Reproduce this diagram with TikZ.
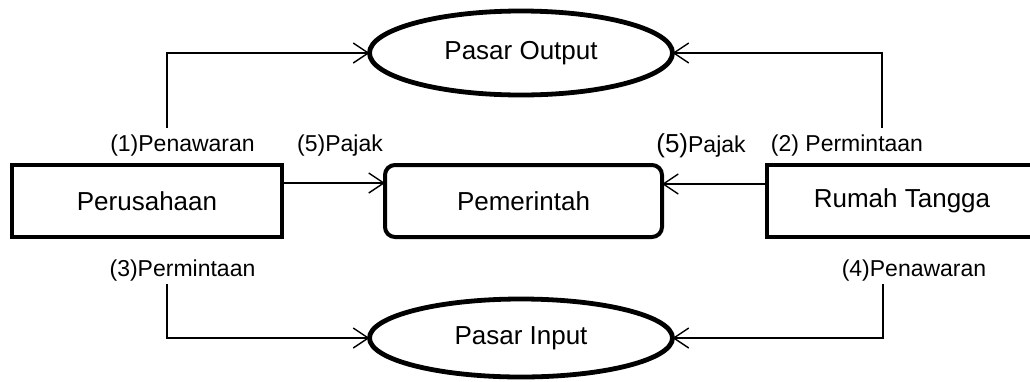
\documentclass[tikz,border=0pt]{standalone}
\usepackage{fontspec}
\setmainfont{Liberation Sans}
\usetikzlibrary{arrows.meta,shapes.geometric}
\begin{document}
\begin{tikzpicture}[x=1pt,y=-1pt,
  boxnode/.style={draw,line width=4pt,inner sep=0pt,outer sep=0pt,font=\fontsize{26}{30}\selectfont},
  ellnode/.style={draw,ellipse,line width=4.8pt,inner sep=0pt,outer sep=0pt,font=\fontsize{26}{30}\selectfont},
  lbl/.style={inner sep=0pt,font=\fontsize{23}{27}\selectfont},
  conn/.style={line width=1.4pt,-{Straight Barb[length=15pt,width=20pt,line width=1.4pt]}}
]
\useasboundingbox (0,0) rectangle (1030,381);
\node[ellnode,minimum width=303pt,minimum height=84pt] (po) at (521,53) {Pasar Output};
\node[ellnode,minimum width=303pt,minimum height=78pt] (pi) at (521,338) {Pasar Input};
\node[boxnode,minimum width=270pt,minimum height=72pt] (peru) at (147,201) {Perusahaan};
\node[boxnode,rounded corners=10pt,minimum width=277pt,minimum height=72pt] (pem) at (523.5,201) {Pemerintah};
\node[boxnode,minimum width=284pt,minimum height=72pt] (rt) at (909,201) {Rumah Tangga\hspace*{14pt}};

\coordinate (c1) at (167,128);
\coordinate (c2) at (882,128);
\coordinate (c3) at (167,284);
\coordinate (c4) at (883,284);

\draw[conn] (c1) |- (po.west);
\draw[conn] (c2) |- (po.east);
\draw[conn] (c3) |- (pi.west);
\draw[conn] (c4) |- (pi.east);
\draw[conn] ([yshift=18pt]peru.east) -- ([yshift=18pt]pem.west);
\draw[conn] ([yshift=17pt]rt.west) -- ([yshift=17pt]pem.east);

\node[lbl] (l1) at (182.5,146) {(1)Penawaran};
\node[lbl] (l5a) at (340,146) {(5)Pajak};
\node[lbl] (l5b) at (701,146) {{\fontsize{26}{30}\selectfont(5)}Pajak};
\node[lbl] (l2) at (847,146) {(2) Permintaan};
\node[lbl] (l3) at (182.5,271) {(3)Permintaan};
\node[lbl] (l4) at (914,271) {(4)Penawaran};
\end{tikzpicture}
\end{document}
